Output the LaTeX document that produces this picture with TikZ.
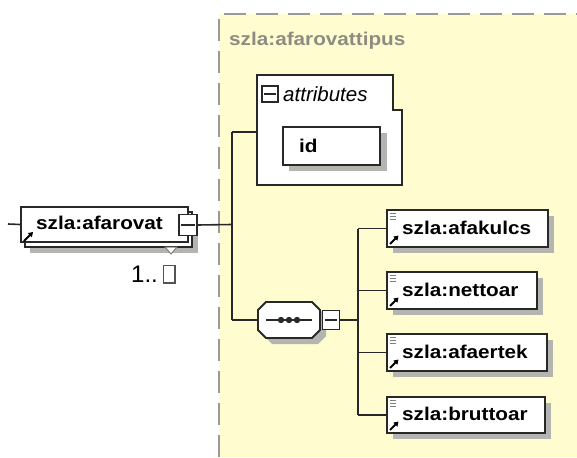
\documentclass[tikz,border=0pt]{standalone}
\usepackage{fontspec}
\newfontfamily\lbl{Liberation Sans}[FakeStretch=1.12]
\newfontfamily\lblplain{Liberation Sans}
\usetikzlibrary{arrows.meta}
\definecolor{ybg}{RGB}{255,253,208}
\definecolor{bord}{RGB}{40,40,40}
\definecolor{shd}{RGB}{180,180,176}
\definecolor{ttl}{RGB}{140,140,130}
\tikzset{
  box/.style={draw=bord, line width=1.9pt, fill=white},
  conn/.style={draw=bord, line width=1.6pt},
  lbltext/.style={font=\lbl\fontsize{18.5}{18.5}\selectfont\bfseries, inner sep=0pt, anchor=west},
  minusbox/.style={draw=bord, line width=1.3pt, fill=white},
  icon/.style={line width=2pt, black, -{Triangle[length=4.5pt,width=5.5pt]}},
}
\begin{document}
\begin{tikzpicture}[x=1pt,y=-1pt]
\useasboundingbox (0,0) rectangle (577,457);
% background region
\fill[ybg] (219,14) rectangle (577,457);
\draw[gray!80, line width=2pt, dash pattern=on 22pt off 10pt] (219,457) -- (219,14) -- (577,14);
\node[font=\lbl\fontsize{18.5}{18.5}\selectfont\bfseries, text=ttl, anchor=west, inner sep=0pt] (title) at (229,41) {szla:afarovattipus};

% element szla:afarovat
\fill[shd] (30,218) rectangle (198,253);
\draw[box] (25,212) rectangle (192,247);
\draw[fill=white, draw=gray, line width=1pt] (165,247) -- (177,247) -- (171,254) -- cycle;
\node[box, minimum width=167pt, minimum height=35pt, inner sep=0pt] (elem) at (104.5,224.5) {};
\node[lbltext] (elemtxt) at (36,223) {szla:afarovat};
\draw[icon] (24,241) -- (33,232);
\node[minusbox, minimum width=18pt, minimum height=21pt, inner sep=0pt] (elemminus) at (188,225) {};
\draw[bord, line width=1.3pt] (181,225) -- (195,225);
\coordinate (lefttail) at (8,224);
\draw[conn] (lefttail) -- (elem.west);
\node[font=\lblplain\fontsize{24}{24}\selectfont, anchor=west, inner sep=0pt] (occ) at (131,274) {1..};
\draw[bord!80, line width=1.2pt] (163.5,265.5) rectangle (175,283);

% junction
\coordinate (j1) at (232,224.5);
\coordinate (jtop) at (232,132);
\coordinate (jbot) at (232,320);
\draw[conn] (elemminus.east) -- (j1);
\draw[conn] (jtop) -- (jbot);

% attributes
\path[box] (257,75) -- (393,75) -- (393,110) -- (402,110) -- (402,185) -- (257,185) -- cycle;
\coordinate (attrwest) at (257,132);
\draw[conn] (jtop) -- (attrwest);
\node[minusbox, minimum width=16pt, minimum height=16pt, inner sep=0pt] (attrminus) at (270,94) {};
\draw[bord, line width=1.2pt] (264,94) -- (276,94);
\node[font=\lblplain\fontsize{20.5}{20.5}\selectfont\itshape, anchor=west, inner sep=0pt] (attrtxt) at (283,94) {attributes};
\fill[shd] (289,133) rectangle (387,171);
\node[box, minimum width=97pt, minimum height=38pt, inner sep=0pt] (idbox) at (331.5,146) {};
\node[lbltext] (idtxt) at (299,146) {id};

% sequence
\fill[shd] (272,308) -- (318,308) -- (326,316) -- (326,336) -- (318,344) -- (272,344) -- (264,336) -- (264,316) -- cycle;
\path[box] (266,302) -- (312,302) -- (320,310) -- (320,330) -- (312,338) -- (266,338) -- (258,330) -- (258,310) -- cycle;
\coordinate (seqwest) at (258,320);
\draw[conn] (jbot) -- (seqwest);
\draw[bord, line width=1.6pt] (266,320) -- (312,320);
\foreach \dx in {281,289,297} \fill[bord] (\dx,320) circle (3.2pt);
\node[minusbox, minimum width=17pt, minimum height=19pt, inner sep=0pt] (seqminus) at (331,320) {};
\draw[bord, line width=1.3pt] (325,320) -- (337,320);
\coordinate (j2) at (358,320);
\draw[conn] (seqminus.east) -- (j2);
\coordinate (j2top) at (358,228.5);
\coordinate (j2bot) at (358,415);
\draw[conn] (j2top) -- (j2bot);

% children
\foreach \n/\t/\r/\yt/\yb in {c1/szla:afakulcs/548/210/247, c2/szla:nettoar/537/272/309, c3/szla:afaertek/547/334/371, c4/szla:bruttoar/545/397/433}{
  \fill[shd] (393,\yt+6) rectangle (\r+6,\yb+6);
  \node[box, minimum width={\r-387}, minimum height={\yb-\yt}, inner sep=0pt] (\n) at ({(387+\r)/2},{(\yt+\yb)/2}) {};
  \node[lbltext] (\n txt) at (402,{(\yt+\yb)/2-1}) {\t};
  \draw[gray, line width=1.1pt] (389.5,\yt+3.5) -- (396,\yt+3.5) (389.5,\yt+6.5) -- (396,\yt+6.5) (389.5,\yt+9.5) -- (396,\yt+9.5);
  \draw[icon] (390,\yb-3) -- (398.5,\yb-11.5);
  \draw[conn] ({358},{(\yt+\yb)/2}) -- (\n.west);
}
\end{tikzpicture}
\end{document}
